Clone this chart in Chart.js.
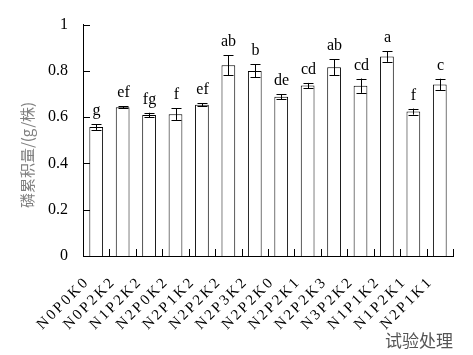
<!DOCTYPE html>
<html>
<head>
<meta charset="utf-8">
<script src="https://cdn.jsdelivr.net/npm/chart.js@4.4.1/dist/chart.umd.min.js"></script>
<style>
  html, body { margin: 0; padding: 0; background: #fff; }
  #wrap { width: 473px; height: 355px; }
</style>
</head>
<body>
<div id="wrap"><canvas id="chart" width="473" height="355"></canvas></div>
<script>
// 处理名称
const treatments = ['N0P0K0', 'N0P2K2', 'N1P2K2', 'N2P0K2', 'N2P1K2', 'N2P2K2', 'N2P3K2',
  'N2P2K0', 'N2P2K1', 'N2P2K3', 'N3P2K2', 'N1P1K2', 'N1P2K1', 'N2P1K1'];
// 磷累积量 (g/株)
const phosphorus = [0.557, 0.643, 0.609, 0.613, 0.654, 0.824, 0.800,
  0.688, 0.737, 0.816, 0.736, 0.862, 0.624, 0.741];
// 标准误
const stdErr = [0.012, 0.005, 0.010, 0.025, 0.006, 0.043, 0.028,
  0.011, 0.011, 0.035, 0.031, 0.023, 0.013, 0.025];
// 显著性字母
const sigLetters = ['g', 'ef', 'fg', 'f', 'ef', 'ab', 'b', 'de', 'cd', 'ab', 'cd', 'a', 'f', 'c'];
// y 轴刻度
const yTicks = [0, 0.2, 0.4, 0.6, 0.8, 1];

const SERIF = "'Liberation Serif', 'Times New Roman', serif";
const CJK = "'Noto Sans CJK SC', sans-serif";

// 类别轴，标签加字距
class SpacedCategoryScale extends Chart.CategoryScale {
  drawLabels(chartArea) {
    const ctx = this.ctx;
    ctx.save();
    ctx.letterSpacing = '2.5px';
    super.drawLabels(chartArea);
    ctx.restore();
  }
}
SpacedCategoryScale.id = 'spacedCategory';
SpacedCategoryScale.defaults = Chart.CategoryScale.defaults;
Chart.register(SpacedCategoryScale);

// 误差线、字母、朝内刻度、y 轴标题
const extrasPlugin = {
  id: 'extras',
  afterDatasetsDraw(chart) {
    const ctx = chart.ctx;
    const x = chart.scales.x;
    const y = chart.scales.y;
    const area = chart.chartArea;
    ctx.save();
    ctx.strokeStyle = '#000';
    ctx.lineWidth = 1;

    // 误差线
    phosphorus.forEach((v, i) => {
      const cx = Math.round(x.getPixelForValue(i)) + 0.5;
      const yHi = y.getPixelForValue(v + stdErr[i]);
      const yLo = y.getPixelForValue(v - stdErr[i]);
      ctx.beginPath();
      ctx.moveTo(cx, yHi); ctx.lineTo(cx, yLo);
      ctx.moveTo(cx - 5, Math.round(yHi) + 0.5); ctx.lineTo(cx + 5, Math.round(yHi) + 0.5);
      ctx.moveTo(cx - 5, Math.round(yLo) + 0.5); ctx.lineTo(cx + 5, Math.round(yLo) + 0.5);
      ctx.stroke();

      ctx.fillStyle = '#000';
      ctx.font = '16px ' + SERIF;
      ctx.textAlign = 'center';
      ctx.textBaseline = 'alphabetic';
      ctx.fillText(sigLetters[i], cx, yHi - 9);
    });

    // x 轴刻度（类别边界，朝内）
    ctx.beginPath();
    for (let i = 0; i <= treatments.length; i++) {
      const px = Math.round(x.getPixelForValue(i - 0.5)) + 0.5;
      ctx.moveTo(px, area.bottom);
      ctx.lineTo(px, area.bottom - 7);
    }
    // y 轴刻度（朝内）
    yTicks.forEach(t => {
      const py = Math.round(y.getPixelForValue(t)) + 0.5;
      ctx.moveTo(area.left, py);
      ctx.lineTo(area.left + 7, py);
    });
    ctx.stroke();

    // y 轴标题
    ctx.translate(27, 155);
    ctx.rotate(-Math.PI / 2);
    ctx.fillStyle = '#808080';
    ctx.font = '15px ' + CJK;
    ctx.textAlign = 'center';
    ctx.textBaseline = 'middle';
    ctx.fillText('磷累积量/(g/株)', 0, 0);
    ctx.restore();
  }
};

new Chart(document.getElementById('chart'), {
  type: 'bar',
  data: {
    labels: treatments,
    datasets: [{
      data: phosphorus,
      backgroundColor: '#fff',
      borderColor: '#000',
      borderWidth: 1,
      barPercentage: 0.52,
      categoryPercentage: 1.0
    }]
  },
  options: {
    responsive: false,
    animation: false,
    layout: { padding: { top: 15, right: 20, left: 0, bottom: 0 } },
    plugins: { legend: { display: false }, tooltip: { enabled: false } },
    scales: {
      x: {
        type: 'spacedCategory',
        grid: { display: false, drawTicks: false },
        border: { display: true, color: '#000', width: 1 },
        ticks: {
          color: '#000',
          font: { family: SERIF, size: 15 },
          minRotation: 45,
          maxRotation: 45,
          padding: 17,
          labelOffset: -9,
          autoSkip: false
        },
        title: {
          display: true,
          text: '试验处理',
          align: 'end',
          color: '#555',
          font: { family: CJK, size: 17 },
          padding: { top: 0, bottom: 4 }
        },
        afterFit(scale) { scale.height = 99; }
      },
      y: {
        min: 0,
        max: 1,
        afterBuildTicks(scale) { scale.ticks = yTicks.map(v => ({ value: v })); },
        grid: { display: false, drawTicks: false },
        border: { display: true, color: '#000', width: 1 },
        ticks: {
          color: '#000',
          font: { family: SERIF, size: 16 },
          padding: 15,
          callback: value => String(Math.round(value * 10) / 10)
        },
        afterFit(scale) { scale.width = 83; }
      }
    }
  },
  plugins: [extrasPlugin]
});
</script>
</body>
</html>
